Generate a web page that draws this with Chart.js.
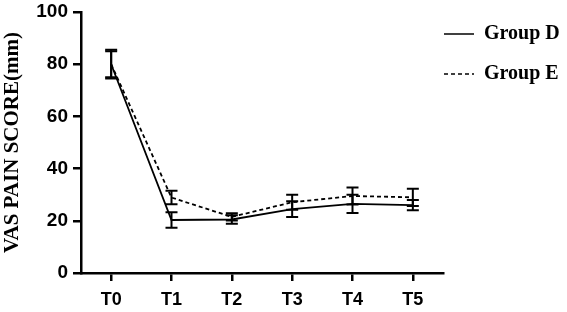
<!DOCTYPE html>
<html>
<head>
<meta charset="utf-8">
<script src="https://cdn.jsdelivr.net/npm/chart.js@4"></script>
<style>
  html, body { margin: 0; padding: 0; background: #fff; }
  #wrap { width: 567px; height: 312px; }
</style>
</head>
<body>
<div id="wrap"><canvas id="myChart" width="567" height="312"></canvas></div>
<script>
// time points
const timePoints = ["T0", "T1", "T2", "T3", "T4", "T5"];

// means
const groupD = [80, 20.3, 20.5, 24.5, 26.5, 26];
const groupE = [80, 28.9, 21.5, 27.1, 29.5, 29];

// error (SD)
const groupDErr = [5.5, 3, 1.6, 3, 3.5, 2];
const groupEErr = [5, 2.6, 1.4, 2.9, 3.3, 3.3];

const yTicks = [0, 20, 40, 60, 80, 100];

const errBars = {
    id: "errBars",
    afterDatasetsDraw(chart) {
        const ctx = chart.ctx;
        const yScale = chart.scales.y;
        const errs = [groupDErr, groupEErr];
        ctx.save();
        ctx.strokeStyle = "#000";
        ctx.lineWidth = 2;
        chart.data.datasets.forEach((ds, di) => {
            const meta = chart.getDatasetMeta(di);
            meta.data.forEach((pt, i) => {
                const v = ds.data[i];
                const e = errs[di][i];
                const top = yScale.getPixelForValue(v + e);
                const bot = yScale.getPixelForValue(v - e);
                const x = pt.x;
                ctx.beginPath();
                ctx.moveTo(x, top); ctx.lineTo(x, bot);
                ctx.moveTo(x - 6, top); ctx.lineTo(x + 6, top);
                ctx.moveTo(x - 6, bot); ctx.lineTo(x + 6, bot);
                ctx.stroke();
            });
        });
        ctx.restore();
    }
};

// legend sits a bit left of its box, closer to the axis end
const legendShift = {
    id: "legendShift",
    afterLayout(chart) {
        const lg = chart.legend;
        lg.left -= 19;
        lg.top += 3;
    }
};

const ctx = document.getElementById("myChart").getContext("2d");
new Chart(ctx, {
    type: "line",
    data: {
        labels: timePoints,
        datasets: [
            {
                label: "Group D",
                data: groupD,
                borderColor: "#000",
                backgroundColor: "#000",
                borderWidth: 1.8,
                pointRadius: 0,
                pointStyle: "line",
                tension: 0,
            },
            {
                label: "Group E",
                data: groupE,
                borderColor: "#000",
                backgroundColor: "#000",
                borderWidth: 1.8,
                borderDash: [4, 3],
                pointRadius: 0,
                pointStyle: "line",
                tension: 0,
            },
        ],
    },
    options: {
        responsive: false,
        animation: false,
        layout: { padding: { top: 1, right: 0, left: 0, bottom: 0 } },
        plugins: {
            tooltip: { enabled: false },
            legend: {
                position: "right",
                align: "start",
                maxWidth: 124,
                labels: {
                    usePointStyle: true,
                    pointStyleWidth: 30,
                    color: "#000",
                    padding: 20,
                    font: { family: "Liberation Serif", weight: "bold", size: 20 },
                    generateLabels: chart => chart.data.datasets.map((ds, i) => ({
                        text: ds.label,
                        datasetIndex: i,
                        pointStyle: "line",
                        strokeStyle: "#000",
                        fillStyle: "#000",
                        fontColor: "#000",
                        lineWidth: 1.5,
                        lineDash: ds.borderDash || [],
                        hidden: false,
                    })),
                },
            },
        },
        scales: {
            x: {
                offset: true,
                afterFit: s => { s.height = 39; },
                grid: {
                    drawOnChartArea: false,
                    drawTicks: true,
                    tickLength: 8,
                    color: "#000",
                    lineWidth: 2.5,
                },
                border: { color: "#000", width: 2.5 },
                ticks: {
                    color: "#000",
                    padding: 8,
                    font: { family: "Liberation Sans", weight: "bold", size: 18 },
                },
            },
            y: {
                min: 0,
                max: 100,
                afterBuildTicks: axis => { axis.ticks = yTicks.map(v => ({ value: v })); },
                afterFit: s => { s.width = 81; s.paddingTop = 12; },
                grid: {
                    drawOnChartArea: false,
                    drawTicks: true,
                    tickLength: 8,
                    color: "#000",
                    lineWidth: 2.5,
                },
                border: { color: "#000", width: 2.5 },
                ticks: {
                    color: "#000",
                    padding: 5,
                    font: { family: "Liberation Sans", weight: "bold", size: 19 },
                },
                title: {
                    display: true,
                    text: "VAS PAIN SCORE(mm)",
                    color: "#000",
                    padding: { top: 0, bottom: 8 },
                    font: { family: "Liberation Serif", weight: "bold", size: 21 },
                },
            },
        },
    },
    plugins: [errBars, legendShift],
});
</script>
</body>
</html>
